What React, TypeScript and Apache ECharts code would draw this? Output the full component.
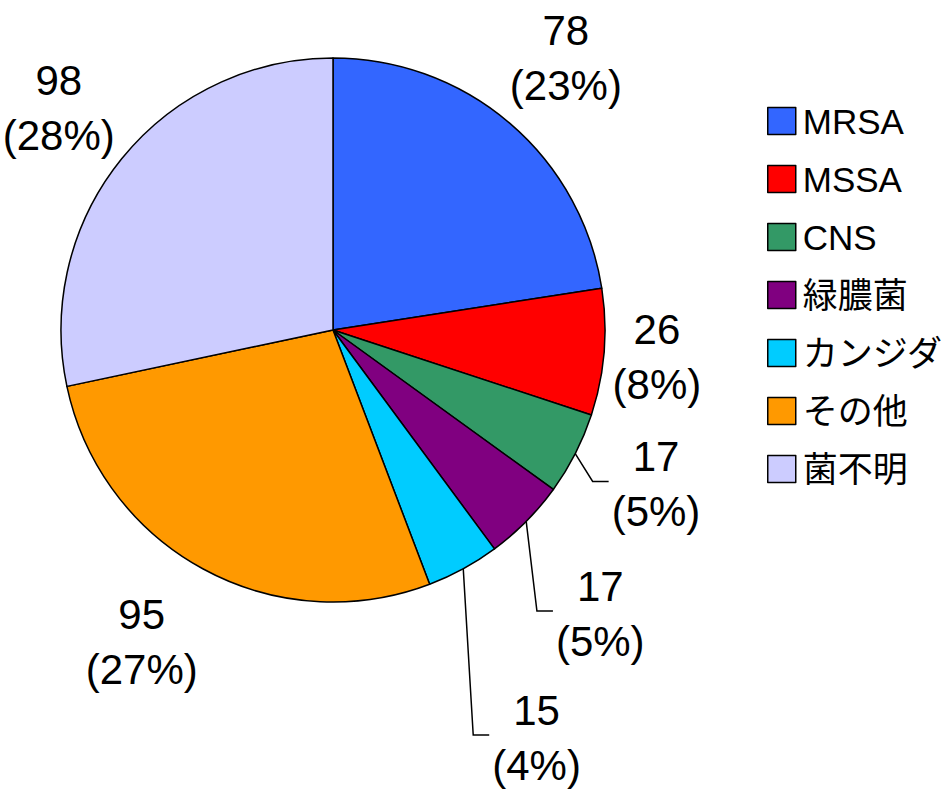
import React, { useEffect, useRef } from 'react';
import * as echarts from 'echarts';

// ---- data ----
const categories = ['MRSA', 'MSSA', 'CNS', '緑膿菌', 'カンジダ', 'その他', '菌不明'];
const values = [78, 26, 17, 17, 15, 95, 98];
const colors = ['#3366FF', '#FF0000', '#339966', '#800080', '#00CCFF', '#FF9900', '#CCCCFF'];

// ---- label placement (styling) ----
const labelRadius = [358, 325, 358, 390, 456, 366, 353];
const labelAngleAdj = [0, 0, -1.5, 2, 2.1, 2.9, 0];
const hasLine = [false, false, true, true, true, false, false];

const CX = 333;
const CY = 330;
const RADIUS = 272;
const FONT = "'Liberation Sans', Arial, 'Noto Sans CJK JP', sans-serif";

const total = values.reduce((a, b) => a + b, 0);
const midAngles: number[] = [];
{
  let cum = 0;
  for (const v of values) {
    midAngles.push(((cum + v / 2) / total) * 360);
    cum += v;
  }
}

export default function App() {
  const ref = useRef<HTMLDivElement>(null);
  useEffect(() => {
    const chart = echarts.init(ref.current!, null, { renderer: 'svg' });
    const option: any = {
      animation: false,
      backgroundColor: '#ffffff',
      legend: {
        orient: 'vertical',
        left: 762,
        top: 98,
        itemWidth: 28,
        itemHeight: 27,
        itemGap: 22,
        icon: 'rect',
        selectedMode: false,
        data: categories,
        itemStyle: { borderColor: '#000000', borderWidth: 1.5 },
        textStyle: {
          fontFamily: FONT,
          fontSize: 35,
          lineHeight: 36,
          color: '#000000',
          padding: [0, 0, 0, 2],
        },
      },
      series: [
        {
          type: 'pie',
          center: [CX, CY],
          radius: RADIUS,
          startAngle: 90,
          clockwise: true,
          avoidLabelOverlap: false,
          emphasis: { disabled: true },
          itemStyle: { borderColor: '#000000', borderWidth: 1.5 },
          label: {
            show: true,
            position: 'outside',
            color: '#000000',
            fontFamily: FONT,
            fontSize: 42,
            lineHeight: 55,
            formatter: (p: any) =>
              `{a|${p.value}}\n{a|(${Math.round((p.value / total) * 100)}%)}`,
            rich: {
              a: { fontFamily: FONT, fontSize: 42, lineHeight: 55, align: 'center', color: '#000000' },
            },
          },
          labelLine: {
            lineStyle: { color: '#000000', width: 1.5 },
          },
          labelLayout: (params: any) => {
            const i = params.dataIndex;
            const th = ((midAngles[i] + labelAngleAdj[i]) * Math.PI) / 180;
            const R = labelRadius[i];
            const x = CX + R * Math.sin(th);
            const y = CY - R * Math.cos(th);
            const out: any = { x, y, align: 'center', verticalAlign: 'middle' };
            if (hasLine[i]) {
              const t0 = (midAngles[i] * Math.PI) / 180;
              const p1 = [CX + RADIUS * Math.sin(t0), CY - RADIUS * Math.cos(t0)];
              const w = params.labelRect ? params.labelRect.width : 90;
              const p3 = [x - w / 2 - 3, y - 3];
              const p2 = [p3[0] - 16, p3[1]];
              out.labelLinePoints = [p1, p2, p3];
            }
            return out;
          },
          data: categories.map((name, i) => ({
            name,
            value: values[i],
            itemStyle: { color: colors[i] },
            labelLine: { show: hasLine[i] },
          })),
        },
      ],
    };
    chart.setOption(option);
    return () => chart.dispose();
  }, []);
  return (
    <div
      ref={ref}
      style={{ position: 'absolute', left: 0, top: 0, width: 948, height: 791 }}
    />
  );
}
